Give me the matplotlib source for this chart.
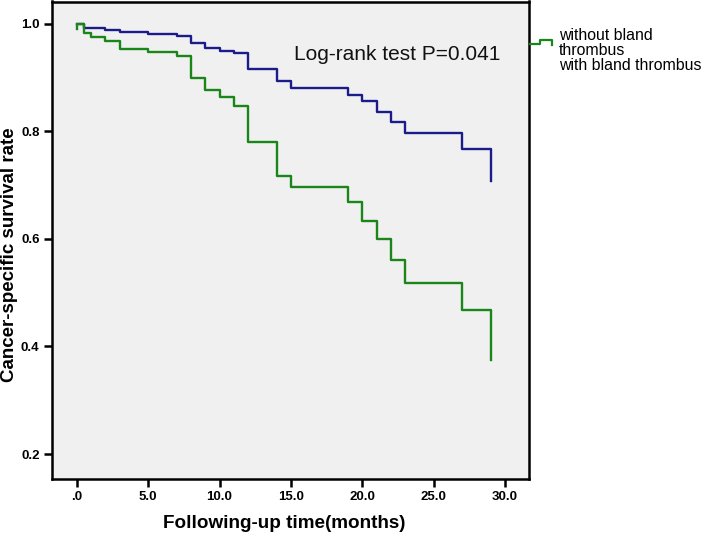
import matplotlib
matplotlib.use("Agg")
import matplotlib.pyplot as plt
from matplotlib.lines import Line2D
from matplotlib.ticker import FixedLocator, FuncFormatter

# Data
t_without = [0, 0.5, 2, 3, 5, 7, 8, 9, 10, 11, 12, 14, 15, 19, 20, 21, 22, 23, 27, 29]
s_without = [1.0, 0.993, 0.989, 0.985, 0.982, 0.977, 0.965, 0.955, 0.950, 0.946,
             0.916, 0.893, 0.881, 0.867, 0.856, 0.837, 0.817, 0.797, 0.767, 0.707]
t_with = [0, 0, 0.5, 1, 2, 3, 5, 7, 8, 9, 10, 11, 12, 14, 15, 19, 20, 21, 22, 23, 27, 29]
s_with = [0.99, 1.0, 0.983, 0.976, 0.968, 0.954, 0.947, 0.940, 0.900, 0.877, 0.864,
          0.848, 0.781, 0.718, 0.696, 0.668, 0.634, 0.600, 0.561, 0.518, 0.467, 0.374]
x_ticks = [0, 5, 10, 15, 20, 25, 30]
y_ticks = [0.2, 0.4, 0.6, 0.8, 1.0]
legend_lines = ["without bland", "thrombus", "with bland thrombus"]
annotation = "Log-rank test P=0.041"

BLUE = "#1b1b8a"
GREEN = "#1a861a"

W, H = 709, 536
fig = plt.figure(figsize=(W / 100, H / 100), dpi=100)
ax = fig.add_axes([52 / W, 1 - 479 / H, (529 - 52) / W, (479 - 1.5) / H])
ax.set_facecolor("#f0f0f0")

ax.plot(t_without, s_without, drawstyle="steps-post", color=BLUE, lw=1.7, zorder=3)
ax.plot(t_with, s_with, drawstyle="steps-post", color=GREEN, lw=1.7, zorder=4)

ax.set_xlim(-1.73, 31.67)
ax.set_ylim(0.1535, 1.0418)

ax.xaxis.set_major_locator(FixedLocator(x_ticks))
ax.yaxis.set_major_locator(FixedLocator(y_ticks))

def fmt(v, pos):
    s = "%.1f" % v
    if abs(v) < 1e-9:
        s = s[1:]
    return s

ax.xaxis.set_major_formatter(FuncFormatter(fmt))
ax.yaxis.set_major_formatter(FuncFormatter(lambda v, p: "%.1f" % v))

for sp in ax.spines.values():
    sp.set_linewidth(1.8)
    sp.set_color("black")

ax.tick_params(axis="both", direction="out", length=6, width=1.8, color="black",
               labelsize=9.5, pad=3)
for lab in ax.get_xticklabels() + ax.get_yticklabels():
    lab.set_fontweight("bold")
    lab.set_family("Liberation Sans")

ax.text(15.2, 0.944, annotation, fontsize=15, family="Liberation Sans",
        va="center", ha="left", color="#111111")

fig.text(284 / W, 1 - 523 / H, "Following-up time(months)", ha="center", va="center",
         fontsize=13.6, fontweight="bold", family="Liberation Sans")
fig.text(10 / W, 1 - 255 / H, "Cancer-specific survival rate", ha="center", va="center",
         rotation=90, fontsize=13.5, fontweight="bold", family="Liberation Sans")

# legend (outside, right)
for i, line in enumerate(legend_lines):
    fig.text(559 / W, 1 - (35 + 15.5 * i) / H, line, ha="left", va="center",
             fontsize=11.4, family="Liberation Sans")
xs = [530, 540, 540, 552, 552]
ys = [44, 44, 40, 40, 45]
fig.add_artist(Line2D([x / W for x in xs], [1 - y / H for y in ys], color=GREEN, lw=1.6))

fig.savefig("out.png", dpi=100)
